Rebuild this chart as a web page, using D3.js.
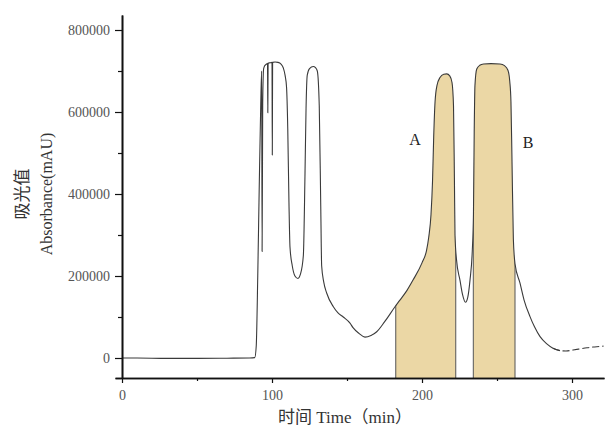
<!DOCTYPE html>
<html>
<head>
<meta charset="utf-8">
<script src="https://d3js.org/d3.v7.min.js"></script>
<style>
  body { margin: 0; background: #fff; }
</style>
</head>
<body>
<svg id="chart" width="616" height="426"></svg>
<script>

// DATA

var time = [0, 10, 30, 50, 70, 85, 88.5, 89.5, 90.5, 91.5, 92.5, 93.1, 93.4, 93.8, 94.4, 95, 96, 97, 97.2, 97.4,
    98.5, 100, 100.2, 100.4, 102, 104, 106, 107.5, 108.7, 109.7, 110.5, 111.3, 112, 113.5, 115.3, 117.3, 119,
    120.9, 122, 122.7, 123.5, 125, 127.5, 129, 130.2, 131.5, 132.5, 133.1, 134.5, 136.5, 140.9, 144, 147.5, 152,
    154, 158, 162, 166, 169.8, 175, 182, 185, 190, 194, 200, 203, 204.5, 206, 207, 207.8, 208.7, 210, 212, 214.5,
    216.5, 218.5, 220, 221, 221.6, 222, 223, 225.3, 227, 229, 230.5, 232, 233.5, 234.3, 234.8, 235.3, 236.5,
    238.5, 241, 246, 252, 255, 257.3, 258.5, 259.3, 260, 260.9, 262, 265.3, 268, 272, 275, 278.7, 283, 287.3,
    292, 296, 300.7, 305, 310, 315, 321];

var absorbance = [0, 0, -1000, -1000, -500, 0, 1000, 30000, 200000, 420000, 620000, 700000, 260000, 620000, 705000,
    712000, 716000, 718000, 598000, 719000, 720000, 721000, 495000, 721000, 722000, 721000, 717000, 708000, 690000,
    660000, 560000, 380000, 270000, 225000, 200000, 194000, 205000, 250000, 450000, 610000, 690000, 706000, 711000,
    708000, 700000, 615000, 370000, 225000, 185000, 158000, 125000, 110000, 100000, 85000, 74000, 60000, 51000,
    55000, 64000, 88000, 125000, 140000, 165000, 190000, 232000, 262000, 295000, 350000, 430000, 540000, 625000,
    665000, 684000, 692000, 693000, 688000, 672000, 615000, 440000, 300000, 240000, 190000, 155000, 136000, 148000,
    190000, 260000, 350000, 550000, 665000, 705000, 714000, 717000, 718000, 717000, 713000, 702000, 675000, 625000,
    480000, 290000, 230000, 183000, 142000, 101000, 76000, 52000, 35000, 24000, 18000, 17000, 19500, 22000, 25000,
    27000, 29000];

var fractionStart = [182.5, 234.2];
var fractionEnd = [222.5, 262];
var fractionNames = ["A", "B"];
var labelTime = [195.3, 270.7];
var labelValue = [534000, 527000];

var xMajor = [0, 100, 200, 300];
var xMinor = [50, 150, 250];
var yMajor = [0, 200000, 400000, 600000, 800000];
var yMinor = [100000, 300000, 500000, 700000];

var dashFrom = 290;
var serif = "'Liberation Serif', 'Times New Roman', 'Noto Sans CJK SC', serif";

// CHART

var svg = d3.select("#chart");

var x = d3.scaleLinear().domain([-4.67, 321.33]).range([115, 604]);
var y = d3.scaleLinear().domain([-48780, 836600]).range([378, 15]);

var points = time.map(function (t, i) { return { t: t, v: absorbance[i] }; });

// area under the trace, used to clip the shaded fractions
var under = d3.area()
    .x(function (d) { return x(d.t); })
    .y0(y.range()[0])
    .y1(function (d) { return y(d.v); })
    .curve(d3.curveMonotoneX);

svg.append("clipPath").attr("id", "under")
    .append("path").attr("d", under(points));

var frac = svg.append("g").attr("clip-path", "url(#under)");

fractionStart.forEach(function (s, i) {
    var e = fractionEnd[i];
    frac.append("rect")
        .attr("x", x(s))
        .attr("y", 0)
        .attr("width", x(e) - x(s))
        .attr("height", y.range()[0])
        .attr("fill", "#ebd7a5");
    [s, e].forEach(function (b) {
        frac.append("line")
            .attr("x1", x(b)).attr("x2", x(b))
            .attr("y1", 0).attr("y2", y.range()[0])
            .attr("stroke", "#555")
            .attr("stroke-width", 1);
    });
});

// trace
var line = d3.line()
    .x(function (d) { return x(d.t); })
    .y(function (d) { return y(d.v); })
    .curve(d3.curveMonotoneX);

svg.append("path")
    .datum(points.filter(function (d) { return d.t <= dashFrom + 2; }))
    .attr("d", line)
    .attr("fill", "none")
    .attr("stroke", "#3a3a3a")
    .attr("stroke-width", 1.1);

svg.append("path")
    .datum(points.filter(function (d) { return d.t >= dashFrom - 3; }))
    .attr("d", line)
    .attr("fill", "none")
    .attr("stroke", "#3a3a3a")
    .attr("stroke-width", 1.1)
    .attr("stroke-dasharray", "7,3");

// fraction labels
fractionNames.forEach(function (n, i) {
    svg.append("text")
        .attr("x", x(labelTime[i]))
        .attr("y", y(labelValue[i]))
        .attr("dy", "0.35em")
        .attr("text-anchor", "middle")
        .style("font-family", serif)
        .style("font-size", "16px")
        .attr("fill", "#222")
        .text(n);
});

// AXES

function styleAxis(g) {
    g.select(".domain").attr("stroke", "#111").attr("stroke-width", 1.6);
    g.selectAll(".tick line").attr("stroke", "#111").attr("stroke-width", 1.2);
    g.selectAll(".tick text")
        .attr("fill", "#555")
        .style("font-size", "14px")
        .style("font-family", serif);
}

svg.append("g")
    .attr("transform", "translate(0," + y.range()[0] + ")")
    .call(d3.axisBottom(x).tickValues(xMinor).tickSize(3).tickSizeOuter(0).tickFormat(""))
    .call(styleAxis);

svg.append("g")
    .attr("transform", "translate(0," + y.range()[0] + ")")
    .call(d3.axisBottom(x).tickValues(xMajor).tickSize(5).tickSizeOuter(0).tickPadding(7))
    .call(styleAxis);

svg.append("g")
    .attr("transform", "translate(" + x(0) + ",0)")
    .call(d3.axisLeft(y).tickValues(yMinor).tickSize(4).tickSizeOuter(0).tickFormat(""))
    .call(styleAxis);

svg.append("g")
    .attr("transform", "translate(" + x(0) + ",0)")
    .call(d3.axisLeft(y).tickValues(yMajor).tickSize(7).tickSizeOuter(0).tickPadding(5).tickFormat(d3.format("d")))
    .call(styleAxis);

// axis titles
svg.append("text")
    .attr("x", 345)
    .attr("y", 423)
    .attr("text-anchor", "middle")
    .style("font-family", serif)
    .style("font-size", "17px")
    .attr("fill", "#333")
    .text("时间 Time（min）");

svg.append("text")
    .attr("transform", "translate(22,194) rotate(-90)")
    .attr("dy", "0.35em")
    .attr("text-anchor", "middle")
    .style("font-family", serif)
    .style("font-size", "17px")
    .attr("fill", "#333")
    .text("吸光值");

svg.append("text")
    .attr("transform", "translate(46,194) rotate(-90)")
    .attr("dy", "0.35em")
    .attr("text-anchor", "middle")
    .style("font-family", serif)
    .style("font-size", "16px")
    .attr("fill", "#333")
    .text("Absorbance(mAU)");

</script>
</body>
</html>
